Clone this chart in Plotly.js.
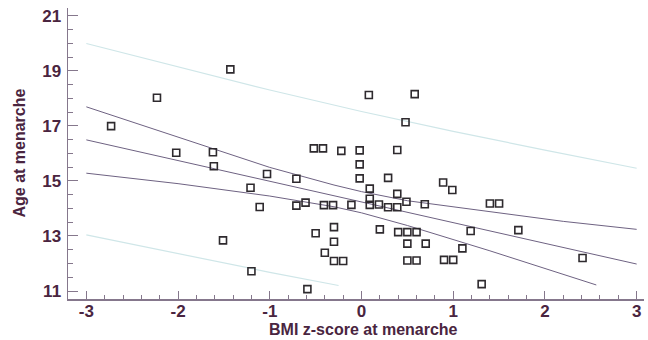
<!DOCTYPE html>
<html>
<head>
<meta charset="utf-8">
<script src="https://cdn.plot.ly/plotly-3.0.1.min.js"></script>
<style>html,body{margin:0;padding:0;background:#fff;}#chart{width:648px;height:340px;}</style>
</head>
<body>
<div id="chart"></div>
<script>
// Scatter data: BMI z-score at menarche (x) vs age at menarche (y)
const bmiZ = [-1.43,-2.23,-2.73,-2.02,-1.62,-1.61,-1.03,-1.21,-1.11,-1.51,-1.20,
  0.08,0.58,0.48,-0.52,-0.42,-0.22,-0.02,0.39,-0.02,-0.02,0.29,-0.71,0.89,0.99,
  0.09,0.39,0.09,0.49,0.69,-0.71,-0.61,-0.41,-0.31,-0.11,0.09,0.19,0.29,0.39,
  -0.30,-0.50,0.20,0.40,0.50,0.60,1.19,-0.30,0.50,0.70,-0.40,1.10,-0.30,-0.20,
  0.50,0.60,0.90,1.00,-0.59,1.40,1.50,1.71,2.41,1.31];
const ageMen = [19.05,18.02,16.99,16.02,16.04,15.53,15.25,14.75,14.05,12.84,11.72,
  18.12,18.15,17.13,16.18,16.18,16.09,16.11,16.12,15.60,15.09,15.11,15.08,14.94,14.67,
  14.72,14.53,14.35,14.24,14.15,14.10,14.21,14.12,14.12,14.13,14.13,14.14,14.04,14.04,
  13.32,13.10,13.24,13.14,13.14,13.14,13.18,12.79,12.72,12.72,12.39,12.55,12.09,12.09,
  12.11,12.11,12.13,12.13,11.07,14.18,14.18,13.21,12.20,11.25];

// Regression line
const fitX = [-3, 3];
const fitY = [16.49, 11.98];

// 95% confidence band
const ciUpX = [-3,-2.5,-2,-1,-0.3,0,0.5,1.4,2.2,3];
const ciUpY = [17.69,17.14,16.60,15.49,14.85,14.61,14.28,13.88,13.53,13.24];
const ciLoX = [-3,-2.5,-2,-1,-0.3,0,0.5,1.4,2.2,2.56];
const ciLoY = [15.28,15.09,14.90,14.45,14.06,13.84,13.38,12.46,11.62,11.22];

// Prediction band
const piUpX = [-3,-2,-1,0,1,2,3];
const piUpY = [19.99,19.15,18.30,17.52,16.80,16.12,15.46];
const piLoX = [-3,-2,-1,-0.25];
const piLoY = [13.04,12.36,11.68,11.20];

const xTickVals = [-3,-2,-1,0,1,2,3];
const yTickVals = [11,13,15,17,19,21];
const xTitle = 'BMI z-score at menarche';
const yTitle = 'Age at menarche';

const txtColor = '#4a2540';
const axColor = '#85778c';
const ciColor = '#6e6282';
const piColor = '#cfe6e8';
const fam = 'Liberation Sans, Arial, sans-serif';

const lineTrace = (x, y, color, w) => ({x, y, type:'scatter', mode:'lines',
  line:{color, width:w}, hoverinfo:'skip', showlegend:false});

const data = [
  lineTrace(piUpX, piUpY, piColor, 1.2),
  lineTrace(piLoX, piLoY, piColor, 1.2),
  lineTrace(ciUpX, ciUpY, ciColor, 1),
  lineTrace(ciLoX, ciLoY, ciColor, 1),
  lineTrace(fitX, fitY, ciColor, 1),
  {x:bmiZ, y:ageMen, type:'scatter', mode:'markers', showlegend:false,
   marker:{symbol:'square-open', size:7, color:'#2e2a2e', line:{width:1.6, color:'#2e2a2e'}}}
];

const tickFont = {family:fam, size:17, color:txtColor};
const titleFont = {family:fam, size:16, color:txtColor};
const b = s => '<b>' + s + '</b>';

const layout = {
  width:648, height:340,
  margin:{l:68, r:4, t:8, b:41},
  paper_bgcolor:'#ffffff', plot_bgcolor:'#ffffff',
  showlegend:false,
  font:tickFont,
  xaxis:{
    range:[-3.2, 3.08], tickvals:xTickVals, ticktext:xTickVals.map(v => b(String(v))),
    ticks:'inside', ticklen:8, tickwidth:1, tickcolor:axColor,
    minor:{dtick:0.2, tick0:0, ticks:'inside', ticklen:4, tickcolor:axColor, tickwidth:1},
    showline:true, linecolor:axColor, linewidth:1.5,
    showgrid:false, zeroline:false,
    tickfont:tickFont,
    ticklabelstandoff:-4
  },
  yaxis:{
    range:[10.71, 21.28], tickvals:yTickVals, ticktext:yTickVals.map(v => b(String(v))),
    ticks:'inside', ticklen:10, tickwidth:1, tickcolor:axColor,
    minor:{dtick:0.5, tick0:0, ticks:'inside', ticklen:5, tickcolor:axColor, tickwidth:1},
    showline:true, linecolor:axColor, linewidth:1.5,
    showgrid:false, zeroline:false,
    tickfont:tickFont,
    ticklabelstandoff:2
  },
  annotations:[
    {text:b(xTitle), xref:'x', yref:'paper', x:0.02, y:-0.141, xanchor:'center', yanchor:'bottom',
     showarrow:false, font:titleFont},
    {text:b(yTitle), xref:'paper', yref:'paper', x:-0.085, y:0.5, xanchor:'center', yanchor:'middle',
     textangle:-90, showarrow:false, font:titleFont}
  ]
};

Plotly.newPlot('chart', data, layout, {displayModeBar:false, staticPlot:true});
</script>
</body>
</html>
